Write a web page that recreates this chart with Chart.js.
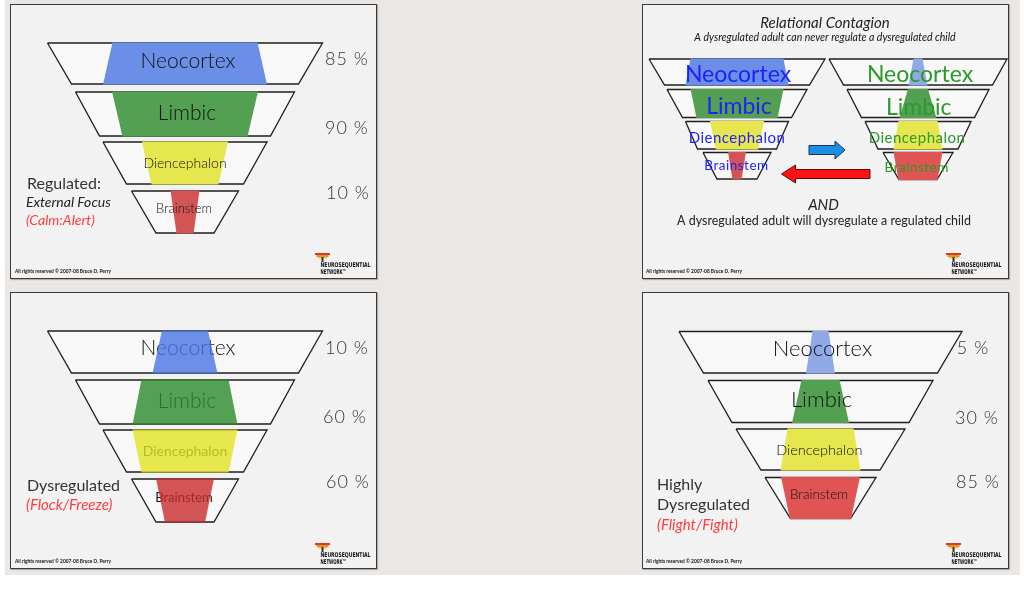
<!DOCTYPE html>
<html><head><meta charset="utf-8">
<script src="https://cdn.jsdelivr.net/npm/chart.js@4.4.0/dist/chart.umd.min.js"></script>
<style>
html,body{margin:0;padding:0;background:#fff;width:1024px;height:592px;overflow:hidden}
#bg{position:absolute;left:5px;top:0;width:1015px;height:575px;background:#ebe7e4}
.panel{position:absolute;background:#f2f2f2;border:1.5px solid #3a3a3a;box-sizing:border-box;box-shadow:1px 1px 1px rgba(0,0,0,0.25)}
#c{position:absolute;left:0;top:0;width:1024px;height:592px}
</style></head><body>
<div id="bg"></div>
<div class="panel" style="left:10px;top:4px;width:367px;height:275px"></div>
<div class="panel" style="left:642px;top:4px;width:367px;height:275px"></div>
<div class="panel" style="left:10px;top:292px;width:367px;height:277px"></div>
<div class="panel" style="left:642px;top:292px;width:367px;height:277px"></div>
<canvas id="c" width="1024" height="592"></canvas>
<script>
// ---------- DATA ----------
const bands = ['Neocortex', 'Limbic', 'Diencephalon', 'Brainstem'];
// width of the active (coloured) part of each band: at its top edge and bottom edge
const regulatedTop    = [145, 146, 86, 29];
const regulatedBottom = [164, 125, 67, 17];
const regulatedPct    = ['85 %', '90 %', '10 %'];
const dysregTop       = [46, 87, 105, 58];
const dysregBottom    = [65, 105, 87, 40];
const dysregPct       = ['10 %', '60 %', '60 %'];
const highTop         = [16, 38, 66, 79];
const highBottom      = [29, 57, 80, 61];
const highPct         = ['5 %', '30 %', '85 %'];
const contagionLeftTop     = [93, 93, 54, 18];
const contagionLeftBottom  = [103, 81, 42, 9];
const contagionRightTop    = [9, 20, 39, 49];
const contagionRightBottom = [19, 37, 49, 39];

// ---------- LAYOUT ----------
const bigTw = [275, 219, 164, 107], bigBw = [227, 171, 117, 58];
const funnels = {
  tl:  {cx:185, tops:[43,92,142,191], bots:[84,136,184,233], tw:bigTw, bw:bigBw},
  bl:  {cx:185, tops:[331,380,430,479], bots:[373,424,472,522], tw:bigTw, bw:bigBw},
  br:  {cx:820.5, tops:[331.5,380.5,429,477.5], bots:[373,422.5,470,518.5], tw:[283,225,169,111], bw:[234,177,119,60]},
  trL: {cx:737, tops:[59,89.5,121.5,152.5], bots:[85,117.5,149,179], tw:[176,140,103,68], bw:[145,109,79,40]},
  trR: {cx:918, tops:[59,89.5,121.5,152.5], bots:[85,117.5,149,179.5], tw:[178,142,106,70], bw:[149,113,80,38]}
};
const colA = ['#6b8ee6', '#53a053', '#e6e64e', '#d25454'];
const colB = ['#92a9e8', '#53a053', '#e6e64e', '#e05454'];
const colAlpha = ['rgba(72,116,226,0.8)', 'rgba(42,138,42,0.8)', 'rgba(226,226,36,0.8)', 'rgba(200,43,43,0.8)'];

function trap(cx, top, bot, tw, bw) {
  return [{x:cx-tw/2,y:top},{x:cx+tw/2,y:top},{x:cx+bw/2,y:bot},{x:cx-bw/2,y:bot},{x:cx-tw/2,y:top}];
}
const datasets = [];
function addFunnel(f, fillTop, fillBot, colors) {
  for (let i = 0; i < 4; i++) {
    datasets.push({data: trap(f.cx, f.tops[i], f.bots[i], f.tw[i], f.bw[i]), showLine:true, fill:'shape',
      backgroundColor:'#f8f8f8', borderColor:'#1e1e1e', borderWidth:1.3, pointRadius:0, order:3});
    datasets.push({data: trap(f.cx, f.tops[i]-0.5, f.bots[i]+0.5, fillTop[i], fillBot[i]), showLine:true, fill:'shape',
      backgroundColor:colors[i], borderColor:'rgba(0,0,0,0)', borderWidth:0, pointRadius:0, order:1});
  }
}
addFunnel(funnels.tl, regulatedTop, regulatedBottom, colA);
addFunnel(funnels.bl, dysregTop, dysregBottom, colAlpha);
addFunnel(funnels.br, highTop, highBottom, colB);
addFunnel(funnels.trL, contagionLeftTop, contagionLeftBottom, colA);
addFunnel(funnels.trR, contagionRightTop, contagionRightBottom, colB);
datasets.push({label:'underlay', data:[], order:2, pointRadius:0});

function arrowPoly(tail, tip, yc, bodyH, headH, headLen) {
  const d = Math.sign(tip - tail), hb = tip - d*headLen;
  return [[tail,yc-bodyH/2],[hb,yc-bodyH/2],[hb,yc-headH/2],[tip,yc],[hb,yc+headH/2],[hb,yc+bodyH/2],[tail,yc+bodyH/2],[tail,yc-bodyH/2]]
    .map(p => ({x:p[0], y:p[1]}));
}
datasets.push({data: arrowPoly(809, 845, 150, 9, 18, 10), showLine:true, fill:'shape', backgroundColor:'#1a8fe3',
  borderColor:'#1b3560', borderWidth:1, pointRadius:0, order:0});
datasets.push({data: arrowPoly(870, 781.5, 174, 9, 18, 14), showLine:true, fill:'shape', backgroundColor:'#ff1212',
  borderColor:'#5a0a0a', borderWidth:1, pointRadius:0, order:0});

// ---------- TEXT ----------
const LF = 'Lato, "Open Sans", sans-serif';
const texts = [];
function T(text, x, y, size, opts) { texts.push(Object.assign({text, x, y, size, align:'center', color:'#111', style:'', weight:'300'}, opts||{})); }
// top-left
[[188,61,21],[187,113,21],[185,163,14],[184,209,13]].forEach((p,i)=>T(bands[i],p[0],p[1],p[2]));
[[347,59],[347,128],[348,193]].forEach((p,i)=>T(regulatedPct[i],p[0],p[1],18,{color:'#333',spacing:'1px'}));
T('Regulated:',27,184,16,{align:'left',color:'#333',weight:'400'});
T('External Focus',26,202,14,{align:'left',style:'italic',weight:'400',color:'#222'});
T('(Calm:Alert)',26,220,14,{align:'left',style:'italic',color:'#ff3b3b',weight:'400'});
// bottom-left (labels lie under the translucent fills)
[[188,348,21],[187,401.5,21],[185,451.5,14],[184,497.5,13]].forEach((p,i)=>T(bands[i],p[0],p[1],p[2],{color:'#111',under:true,weight:i<2?'300':'400'}));
[[347,348],[345,417.5],[348,482.5]].forEach((p,i)=>T(dysregPct[i],p[0],p[1],18,{color:'#333',spacing:'1px'}));
T('Dysregulated',27,485.5,16,{align:'left',color:'#333',weight:'400'});
T('(Flock/Freeze)',26,505,15,{align:'left',style:'italic',color:'#ff3b3b',weight:'400'});
// bottom-right
[[822.5,349.3,22],[821.5,400.3,22],[819.3,450,14.5],[819,494.3,13.5]].forEach((p,i)=>T(bands[i],p[0],p[1],p[2]));
[[973,348],[977,417.7],[978,482.3]].forEach((p,i)=>T(highPct[i],p[0],p[1],18,{color:'#333',spacing:'1px'}));
T('Highly',657,485,16,{align:'left',color:'#333',weight:'400'});
T('Dysregulated',657,505,16,{align:'left',color:'#333',weight:'400'});
T('(Flight/Fight)',657,525,15,{align:'left',style:'italic',color:'#ff3b3b',weight:'400'});
// top-right
T('Relational Contagion',825,22.7,15,{style:'italic',weight:'400',color:'#222'});
T('A dysregulated adult can never regulate a dysregulated child',825,37.7,10.5,{style:'italic',weight:'400',color:'#111',maxWidth:276});
[[738,75,23],[739,107,23],[737,137.7,15],[736.5,166,13.5]].forEach((p,i)=>T(bands[i],p[0],p[1],p[2],{color:'#1f1fff',weight:'400',spacing:i>1?'0.5px':'0px'}));
[[920,75,23],[918.7,108,23],[917,138,15],[916.7,168,13.5]].forEach((p,i)=>T(bands[i],p[0],p[1],p[2],{color:'#2a9a2a',weight:'400',spacing:i>1?'0.5px':'0px'}));
T('AND',823.5,205,15,{style:'italic',weight:'400',color:'#222'});
T('A dysregulated adult will dysregulate a regulated child',824,220.7,13.5,{weight:'400',color:'#222',maxWidth:294});
// footers
const footers = [[15,271.7,315,253],[646,271.7,946,253],[15,561.7,315,543],[646,561.7,946,543]];

function drawTexts(chart, list) {
  const ctx = chart.ctx, sx = chart.scales.x, sy = chart.scales.y;
  ctx.save();
  ctx.textBaseline = 'middle';
  for (const t of list) {
    ctx.font = `${t.style} ${t.weight} ${t.size}px ${LF}`;
    ctx.fillStyle = t.color;
    ctx.textAlign = t.align;
    ctx.letterSpacing = t.spacing || '0px';
    const x = sx.getPixelForValue(t.x), y = sy.getPixelForValue(t.y);
    if (t.maxWidth) ctx.fillText(t.text, x, y, t.maxWidth); else ctx.fillText(t.text, x, y);
  }
  ctx.restore();
}
function drawFooters(chart) {
  const ctx = chart.ctx, sx = chart.scales.x, sy = chart.scales.y;
  ctx.save();
  ctx.textBaseline = 'middle'; ctx.textAlign = 'left';
  for (const [cx, cy, lx, ly] of footers) {
    ctx.fillStyle = '#111';
    ctx.font = `bold 5px ${LF}`;
    ctx.fillText('All rights reserved \u00a9 2007-08 Bruce D. Perry', sx.getPixelForValue(cx), sy.getPixelForValue(cy), 96);
    const X = sx.getPixelForValue(lx), Y = sy.getPixelForValue(ly);
    ctx.fillStyle = '#d83a2a'; ctx.fillRect(X, Y, 15, 2);
    ctx.fillStyle = '#e8902a'; ctx.fillRect(X+1.5, Y+2, 12, 2);
    ctx.fillStyle = '#e6cf3a'; ctx.fillRect(X+3, Y+4, 9, 1.5);
    ctx.fillStyle = '#333'; ctx.fillRect(X+6.5, Y+4, 2, 5);
    ctx.fillStyle = '#111';
    ctx.font = `bold 6.5px "Liberation Sans Narrow", "DejaVu Sans Condensed", sans-serif`;
    ctx.fillText('NEUROSEQUENTIAL', X+5.5, Y+12.7, 50);
    ctx.fillText('NETWORK\u2122', X+5.5, Y+19.5, 26);
  }
  ctx.restore();
}
const textPlugin = {
  id: 'slideTexts',
  afterDatasetDraw(chart, args) {
    if (chart.data.datasets[args.index].label === 'underlay') drawTexts(chart, texts.filter(t => t.under));
  },
  afterDatasetsDraw(chart) {
    drawTexts(chart, texts.filter(t => !t.under));
    drawFooters(chart);
  }
};

new Chart(document.getElementById('c'), {
  type: 'scatter',
  data: { datasets },
  plugins: [textPlugin],
  options: {
    responsive: false, animation: false,
    layout: { padding: 0 },
    elements: { line: { tension: 0 }, point: { radius: 0 } },
    plugins: { legend: { display: false }, tooltip: { enabled: false } },
    events: [],
    scales: {
      x: { type: 'linear', min: 0, max: 1024, display: false },
      y: { type: 'linear', min: 0, max: 592, reverse: true, display: false }
    }
  }
});
</script>
</body></html>
